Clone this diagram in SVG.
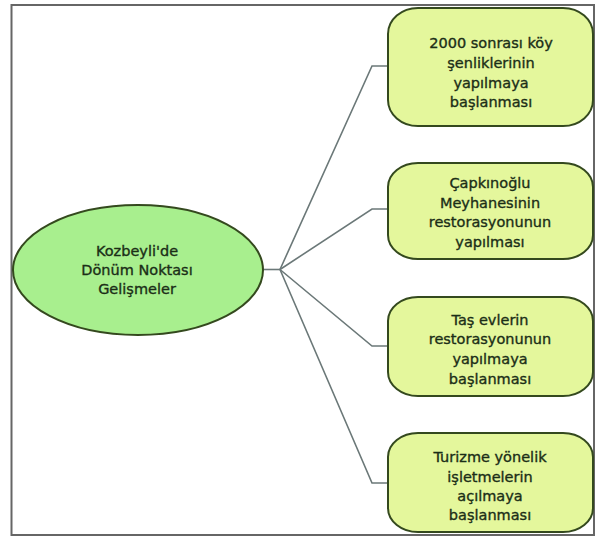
<svg xmlns="http://www.w3.org/2000/svg" width="596" height="536" viewBox="0 0 596 536">
<style>
.t{font-family:"DejaVu Sans",Verdana,sans-serif;font-size:14.5px;fill:#1b2e17;stroke:#1b2e17;stroke-width:0.35;text-anchor:middle}
.box{fill:#e4f79c;stroke:#34491e;stroke-width:2}
.hub{fill:#a8ef8e;stroke:#34491e;stroke-width:2}
.con{fill:none;stroke:#6b7878;stroke-width:1.6}
</style>
<rect x="0" y="0" width="596" height="536" fill="#ffffff"/>
<rect x="11.5" y="5" width="582.5" height="530" fill="none" stroke="#666666" stroke-width="2"/>
<g id="connectors">
<path class="con" d="M263 269.5H280"/>
<path class="con" d="M280 269.5L372 66H388"/>
<path class="con" d="M280 269.5L372 209H388"/>
<path class="con" d="M280 269.5L372 346H388"/>
<path class="con" d="M280 269.5L372 483H388"/>
</g>
<g id="center">
<ellipse class="hub" cx="138" cy="270" rx="125" ry="65"/>
<text class="t" x="137" y="256">Kozbeyli'de</text>
<text class="t" x="137" y="275">Dönüm Noktası</text>
<text class="t" x="137" y="294">Gelişmeler</text>
</g>
<g id="n1">
<rect class="box" x="388" y="8" width="205" height="118" rx="30" ry="26"/>
<text class="t" x="491" y="48">2000 sonrası köy</text>
<text class="t" x="491" y="68">şenliklerinin</text>
<text class="t" x="491" y="88">yapılmaya</text>
<text class="t" x="491" y="107">başlanması</text>
</g>
<g id="n2">
<rect class="box" x="388" y="163" width="205" height="96" rx="30" ry="24"/>
<text class="t" x="490" y="188">Çapkınoğlu</text>
<text class="t" x="490" y="208">Meyhanesinin</text>
<text class="t" x="490" y="227">restorasyonunun</text>
<text class="t" x="490" y="247">yapılması</text>
</g>
<g id="n3">
<rect class="box" x="388" y="297" width="205" height="99" rx="30" ry="24"/>
<text class="t" x="490" y="325">Taş evlerin</text>
<text class="t" x="490" y="344">restorasyonunun</text>
<text class="t" x="490" y="364">yapılmaya</text>
<text class="t" x="490" y="384">başlanması</text>
</g>
<g id="n4">
<rect class="box" x="388" y="433" width="205" height="99" rx="30" ry="24"/>
<text class="t" x="490" y="462">Turizme yönelik</text>
<text class="t" x="490" y="482">işletmelerin</text>
<text class="t" x="490" y="501">açılmaya</text>
<text class="t" x="490" y="520">başlanması</text>
</g>
</svg>
